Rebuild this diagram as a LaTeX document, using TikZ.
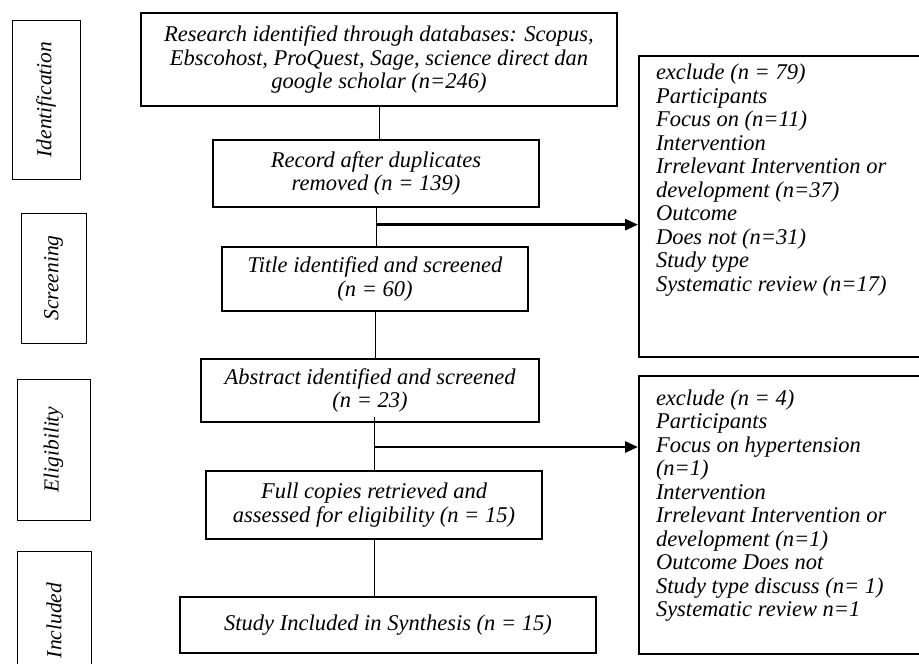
\documentclass[tikz,border=0pt]{standalone}
\usepackage{fontspec}
\setmainfont{Liberation Serif}
\usetikzlibrary{arrows.meta}

\tikzset{
  mainbox/.style={draw, line width=1.3pt, align=center, inner sep=0pt,
    font=\fontsize{22.5}{23.5}\selectfont\itshape},
  sidebox/.style={draw, line width=0.9pt, rotate=90, inner sep=0pt,
    font=\fontsize{21.5}{24}\selectfont\itshape},
  exbox/.style={draw, line width=2pt, anchor=north west, inner xsep=17pt,
    font=\fontsize{22.5}{23.5}\selectfont\itshape},
  link/.style={line width=0.8pt},
  branch/.style={line width=2.8pt, -{Triangle[length=13pt,width=11pt]}}
}

\begin{document}
\begin{tikzpicture}[x=1pt, y=-1pt]
\useasboundingbox (0,0) rectangle (919,664);

% phase labels
\node[sidebox, minimum width=159pt, minimum height=68pt] (idlab) at (46,99.5) {Identification};
\node[sidebox, minimum width=130pt, minimum height=65pt] (scrlab) at (53.5,278) {Screening};
\node[sidebox, minimum width=141pt, minimum height=73pt] (eliglab) at (53.5,449.5) {Eligibility};
\node[sidebox, minimum width=139pt, minimum height=74pt] (inclab) at (54,620.5) {Included};

% main flow
\node[mainbox, minimum width=476pt, minimum height=93pt] (src) at (379,59.5)
  {Research identified through databases: Scopus,\\ Ebscohost, ProQuest, Sage, science direct dan\\ google scholar (n=246)};
\node[mainbox, minimum width=326pt, minimum height=67pt] (dup) at (376,173.5)
  {Record after duplicates\\ removed (n = 139)};
\node[mainbox, minimum width=306pt, minimum height=64pt] (title) at (375,279)
  {Title identified and screened\\ (n = 60)};
\node[mainbox, minimum width=338pt, minimum height=63pt] (abs) at (370,390.5)
  {Abstract identified and screened\\ (n = 23)};
\node[mainbox, minimum width=336pt, minimum height=68pt] (full) at (374,505)
  {Full copies retrieved and\\ assessed for eligibility (n = 15)};
\node[mainbox, minimum width=416pt, minimum height=56pt] (incl) at (388,625)
  {Study Included in Synthesis (n = 15)};

% excluded records
\node[exbox, inner ysep=8pt] (ex1) at (638,55)
  {\parbox[t][285pt][t]{250pt}{\raggedright
   exclude (n = 79)\\ Participants\\ Focus on (n=11)\\ Intervention\\
   Irrelevant Intervention or\\ development (n=37)\\ Outcome\\
   Does not (n=31)\\ Study type\\ Systematic review (n=17)}};
\node[exbox, inner ysep=13.5pt] (ex2) at (638,375)
  {\parbox[t][251pt][t]{250pt}{\raggedright
   exclude (n = 4)\\ Participants\\ Focus on hypertension\\ (n=1)\\
   Intervention\\ Irrelevant Intervention or\\ development (n=1)\\
   Outcome Does not\\ Study type discuss (n= 1)\\ Systematic review n=1}};

% connectors
\draw[link] (src.south) -- (src.south |- dup.north);
\draw[link] (dup.south) -- (dup.south |- title.north);
\draw[link] (title.south) -- (title.south |- abs.north);
\coordinate (a1) at (374,417);
\draw[link] (a1) -- (a1 |- full.north);
\draw[link] (full.south) -- (full.south |- incl.north);

\path (dup.south) ++(0,17) coordinate (b1);
\coordinate (b2) at (374,447);
\draw[branch] (b1) -- (b1 -| ex1.west);
\draw[branch] (b2) -- (b2 -| ex2.west);
\end{tikzpicture}
\end{document}
